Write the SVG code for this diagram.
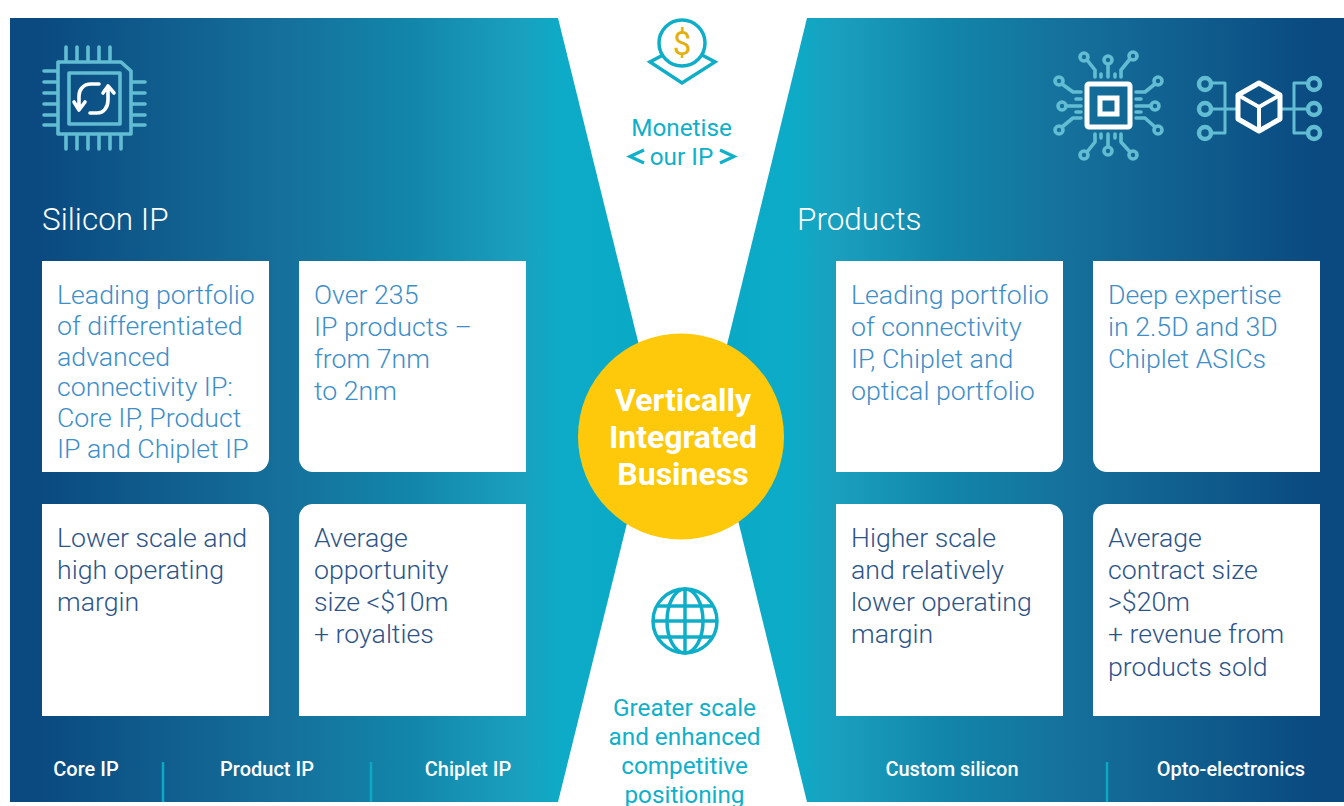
<svg xmlns="http://www.w3.org/2000/svg" width="1344" height="806" viewBox="0 0 1344 806">
<style>
text{font-family:Roboto,"Liberation Sans",sans-serif}
.t{font-size:26.7px;font-weight:300}
.lb{fill:#3e8ec8}
.db{fill:#2d5487}
.h{font-size:31.500px;font-weight:300;fill:#fff}
.f{font-size:20px;font-weight:500;fill:#fff;text-anchor:middle}
.c{font-size:24.3px;font-weight:400;fill:#0fb0c9;text-anchor:middle}
.box{fill:#fff}
.sep{stroke:#0ba9c6;stroke-width:2.5}
.ic{fill:none;stroke:#62bdd3;stroke-width:3.6;stroke-linecap:round;stroke-linejoin:round}
.tl{fill:none;stroke:#0eaec9;stroke-width:3.5}
</style>
<defs>
<linearGradient id="gl" gradientUnits="userSpaceOnUse" x1="40" y1="0" x2="620" y2="0"><stop offset="0" stop-color="#0a4a80"/><stop offset="0.42" stop-color="#15709b"/><stop offset="0.64" stop-color="#1286aa"/><stop offset="0.82" stop-color="#1a9fbe"/><stop offset="0.9" stop-color="#0dabc7"/><stop offset="1" stop-color="#0aaac6"/></linearGradient>
<linearGradient id="gr" gradientUnits="userSpaceOnUse" x1="1315" y1="0" x2="735" y2="0"><stop offset="0" stop-color="#0a4a80"/><stop offset="0.42" stop-color="#15709b"/><stop offset="0.64" stop-color="#1286aa"/><stop offset="0.82" stop-color="#1a9fbe"/><stop offset="0.9" stop-color="#0dabc7"/><stop offset="1" stop-color="#0aaac6"/></linearGradient>
</defs>
<g id="panel-left"><path d="M10 18H558L655 410L558 802H10Z" fill="url(#gl)"/></g>
<g id="panel-right"><path d="M1344 18H807L711 410L807 802H1344Z" fill="url(#gr)"/></g>

<g id="icon-core" class="ic">
<path d="M58 62H121L131 71V134H58Z"/><rect x="69" y="73" width="51" height="51"/>
<path d="M66 47V60M77 47V60M88 47V60M99 47V60M110 47V60M66 136V149M77 136V149M88 136V149M99 136V149M110 136V149M121 136V149"/>
<path d="M44 71H56M44 82H56M44 93H56M44 104H56M44 115H56M44 125H56M133 82H145M133 93H145M133 104H145M133 115H145M133 125H145"/>
<path d="M99 84H91C83 84 79 90 79 96V108M74 102L79 110L85 102M90 113H97C104 113 108 107 108 100V88M103 93L108 86L114 93" style="stroke:#fff"/>
</g>

<g id="icon-coin">
<circle cx="682" cy="43" r="23" class="tl"/>
<path d="M663 55L650 62L682 83L715 62L702 55" class="tl"/>
<text x="682" y="55" text-anchor="middle" style="font-size:33px;font-weight:400;fill:#e3b00f">$</text>
</g>
<g id="label-monetise">
<text class="c" x="681.500" y="136">Monetise</text>
<text class="c" x="681.500" y="165">our IP</text>
<path d="M644 150L630 156.500L644 163M720 150L734 156.500L720 163" fill="none" stroke="#0fb0c9" stroke-width="3.200"/>
</g>

<g id="icon-chip">
<rect x="1087" y="84" width="43" height="43" rx="2" fill="none" stroke="#fff" stroke-width="5"/>
<rect x="1100" y="98" width="17" height="16" fill="none" stroke="#fff" stroke-width="5"/>
<g class="ic">
<circle cx="1084" cy="57" r="4"/><circle cx="1108" cy="60" r="4"/><circle cx="1133" cy="56" r="4"/>
<circle cx="1059" cy="81" r="4"/><circle cx="1062" cy="106" r="4"/><circle cx="1059" cy="130" r="4"/>
<circle cx="1158" cy="81" r="4"/><circle cx="1155" cy="106" r="4"/><circle cx="1158" cy="130" r="4"/>
<circle cx="1084" cy="155" r="4"/><circle cx="1108" cy="151" r="4"/><circle cx="1133" cy="155" r="4"/>
<path d="M1087 60L1095 70V77M1108 64V77M1130 59L1121 70V77M1101 74V77M1115 74V77"/>
<path d="M1062 84L1073 92H1081M1066 106H1081M1062 127L1073 118H1081M1076 99H1081M1076 112H1081"/>
<path d="M1155 84L1145 92H1136M1151 106H1136M1155 127L1145 118H1136M1136 99H1141M1136 112H1141"/>
<path d="M1087 152L1095 142V134M1108 147V134M1130 152L1121 142V134M1101 134V138M1115 134V138"/>
</g>
</g>
<g id="icon-cube">
<g class="ic" style="stroke-linecap:butt;stroke-width:3">
<path d="M1212 83H1225V133H1212M1212 109H1236M1282 109H1306M1306 83H1294V133H1306"/>
<circle cx="1205" cy="84" r="6" style="stroke-width:4.500"/><circle cx="1205" cy="109" r="6" style="stroke-width:4.500"/><circle cx="1205" cy="133" r="6" style="stroke-width:4.500"/>
<circle cx="1314" cy="84" r="6" style="stroke-width:4.500"/><circle cx="1314" cy="109" r="6" style="stroke-width:4.500"/><circle cx="1314" cy="133" r="6" style="stroke-width:4.500"/>
</g>
<path d="M1259 83L1280 95V119L1259 131L1238 119V95Z" fill="#0c5286" stroke="#fff" stroke-width="5" stroke-linejoin="round"/>
<path d="M1238 95L1259 107L1280 95M1259 107V131" fill="none" stroke="#fff" stroke-width="4"/>
</g>

<text class="h" x="42" y="230">Silicon IP</text>
<text class="h" x="797" y="230">Products</text>

<g id="box-1"><path class="box" d="M42 261H269V458a14 14 0 0 1-14 14H42Z"/>
<text class="t lb" x="57" y="304">Leading portfolio</text><text class="t lb" x="57" y="335">of differentiated</text><text class="t lb" x="57" y="366">advanced</text><text class="t lb" x="57" y="396">connectivity IP:</text><text class="t lb" x="57" y="427">Core IP, Product</text><text class="t lb" x="57" y="458">IP and Chiplet IP</text></g>
<g id="box-2"><path class="box" d="M299 261H526V472H313a14 14 0 0 1-14-14Z"/>
<text class="t lb" x="314" y="304">Over 235</text><text class="t lb" x="314" y="336">IP products –</text><text class="t lb" x="314" y="368">from 7nm</text><text class="t lb" x="314" y="400">to 2nm</text></g>
<g id="box-3"><path class="box" d="M42 716V504H255a14 14 0 0 1 14 14V716Z"/>
<text class="t db" x="57" y="547">Lower scale and</text><text class="t db" x="57" y="579">high operating</text><text class="t db" x="57" y="611">margin</text></g>
<g id="box-4"><path class="box" d="M299 716V518a14 14 0 0 1 14-14H526V716Z"/>
<text class="t db" x="314" y="547">Average</text><text class="t db" x="314" y="579">opportunity</text><text class="t db" x="314" y="611">size &lt;$10m</text><text class="t db" x="314" y="643">+ royalties</text></g>
<g id="box-5"><path class="box" d="M836 261H1063V458a14 14 0 0 1-14 14H836Z"/>
<text class="t lb" x="851" y="304">Leading portfolio</text><text class="t lb" x="851" y="336">of connectivity</text><text class="t lb" x="851" y="368">IP, Chiplet and</text><text class="t lb" x="851" y="400">optical portfolio</text></g>
<g id="box-6"><path class="box" d="M1093 261H1320V472H1107a14 14 0 0 1-14-14Z"/>
<text class="t lb" x="1108" y="304">Deep expertise</text><text class="t lb" x="1108" y="336">in 2.5D and 3D</text><text class="t lb" x="1108" y="368">Chiplet ASICs</text></g>
<g id="box-7"><path class="box" d="M836 716V504H1049a14 14 0 0 1 14 14V716Z"/>
<text class="t db" x="851" y="547">Higher scale</text><text class="t db" x="851" y="579">and relatively</text><text class="t db" x="851" y="611">lower operating</text><text class="t db" x="851" y="643">margin</text></g>
<g id="box-8"><path class="box" d="M1093 716V518a14 14 0 0 1 14-14H1320V716Z"/>
<text class="t db" x="1108" y="547">Average</text><text class="t db" x="1108" y="579">contract size</text><text class="t db" x="1108" y="611">&gt;$20m</text><text class="t db" x="1108" y="643">+ revenue from</text><text class="t db" x="1108" y="676">products sold</text></g>

<g id="center">
<circle cx="681" cy="436.500" r="103" fill="#fec90a"/>
<g style="font-size:32px;font-weight:700;fill:#fff;text-anchor:middle">
<text x="683" y="411">Vertically</text><text x="683" y="448">Integrated</text><text x="683" y="485">Business</text></g>
</g>

<g id="icon-globe" class="tl">
<circle cx="685" cy="621" r="32"/><ellipse cx="685" cy="621" rx="18" ry="32"/>
<path d="M685 589V653M658 606H712M653 621H717M658 637H712"/>
</g>
<g id="label-scale">
<text class="c" x="684.500" y="716">Greater scale</text><text class="c" x="684.500" y="745">and enhanced</text><text class="c" x="684.500" y="774">competitive</text><text class="c" x="684.500" y="803">positioning</text>
</g>

<g id="footer">
<text class="f" x="86" y="776">Core IP</text><text class="f" x="267" y="776">Product IP</text><text class="f" x="468" y="776">Chiplet IP</text>
<text class="f" x="952" y="776">Custom silicon</text><text class="f" x="1231" y="776">Opto-electronics</text>
<path class="sep" d="M163 762V802M371 762V802M1107 762V802"/>
</g>
</svg>
